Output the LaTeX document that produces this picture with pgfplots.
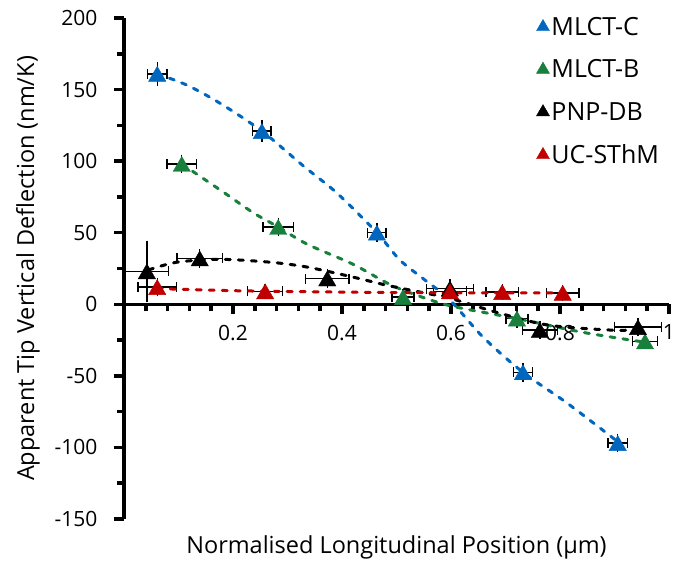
\documentclass[border=0pt]{standalone}
\usepackage{fontspec}
\setmainfont{Open Sans}
\usepackage{pgfplots}
\usepackage{pgfplotstable}
\pgfplotsset{compat=1.18}

\definecolor{mblue}{RGB}{0,102,190}
\definecolor{mgreen}{RGB}{24,128,60}
\definecolor{mred}{RGB}{192,0,0}

% x, y, x error, y error
\pgfplotstableread{
x y ex ey
0.061 161 0.018 5
0.253 121 0.017 4
0.464 50 0.017 3
0.732 -47.5 0.017 3
0.906 -97 0.018 3
}\mlctc
\pgfplotstableread{
x y ex ey
0.106 98 0.027 3
0.283 54 0.028 3
0.512 5 0.02 2
0.721 -10 0.02 3
0.956 -26 0.023 2
}\mlctb
\pgfplotstableread{
x y ex ey
0.042 23 0.04 18
0.139 32 0.042 3
0.373 18 0.04 3
0.598 11 0.043 3
0.763 -18 0.032 3
0.943 -16 0.043 3
}\pnpdb
\pgfplotstableread{
x y ex ey
0.061 12 0.035 3
0.259 9 0.032 2
0.598 9 0.03 2
0.694 8.5 0.03 2
0.805 8 0.03 2
}\ucsthm

\pgfplotsset{
  trend/.style={line width=3pt, line cap=round, dash pattern=on 5pt off 8pt, smooth, no markers, forget plot},
  pts/.style={only marks, mark=triangle*, mark size=10pt, mark options={yshift=-2.5pt}},
  ebar/.style={forget plot, only marks, mark=none,
    error bars/error bar style={line width=1.4pt, black, solid},
    error bars/error mark options={line width=1.4pt, black, mark size=5pt}},
  xerr/.style={ebar, error bars/x dir=both, error bars/x explicit, error bars/error mark=|},
  yerr/.style={ebar, error bars/y dir=both, error bars/y explicit, error bars/error mark=-},
}

\begin{document}
\begin{tikzpicture}
\begin{axis}[
  scale only axis, width=545pt, height=501pt,
  xmin=0, xmax=1, ymin=-150, ymax=200,
  axis x line=middle, axis y line=left,
  axis line style={line width=3.5pt, -},
  xtick={0.2,0.4,0.6,0.8,1}, xticklabels={0.2,0.4,0.6,0.8,1},
  ytick={-150,-100,...,200},
  minor xtick={0,0.04,...,1.01}, minor ytick={-150,-125,...,200},
  tick align=outside,
  major tick length=10pt, minor tick length=7pt,
  tick style={line width=3.5pt, black},
  major tick style={line width=3.5pt, black},
  minor tick style={line width=3.5pt, black},
  /pgf/number format/assume math mode=true,
  tick label style={font=\fontsize{21}{25}\selectfont},
  yticklabel style={xshift=-13pt},
  xticklabel style={yshift=-7pt},
  label style={font=\fontsize{23.5}{28}\selectfont},
  xlabel={Normalised Longitudinal Position (µm)},
  ylabel={Apparent Tip Vertical Deflection (nm/K)},
  xlabel style={at={(axis description cs:0.5,-0.056)}, anchor=center},
  ylabel style={at={(axis description cs:-0.176,0.5)}, anchor=center},
  legend style={at={(axis description cs:0.751,1.01)}, anchor=north west,
    draw=none, fill=none, row sep=19pt, font=\fontsize{25}{30}\selectfont},
  legend cell align=left,
  legend image post style={mark size=7.5pt, mark options={yshift=0pt}},
  clip=false,
]

% error bars (behind the markers)
\addplot[xerr] table[x=x, y=y, x error=ex] {\mlctc};
\addplot[yerr] table[x=x, y=y, y error=ey] {\mlctc};
\addplot[xerr] table[x=x, y=y, x error=ex] {\mlctb};
\addplot[yerr] table[x=x, y=y, y error=ey] {\mlctb};
\addplot[xerr] table[x=x, y=y, x error=ex] {\pnpdb};
\addplot[yerr] table[x=x, y=y, y error=ey] {\pnpdb};
\addplot[xerr] table[x=x, y=y, x error=ex] {\ucsthm};
\addplot[yerr] table[x=x, y=y, y error=ey] {\ucsthm};

% trendlines
\addplot[trend, mblue] coordinates {(0.061,161) (0.116,153) (0.176,140.5) (0.253,121) (0.328,97) (0.391,77.6) (0.464,50) (0.506,31) (0.552,17) (0.598,3) (0.659,-23) (0.732,-47.5) (0.813,-69) (0.906,-96)};
\addplot[trend, mgreen] coordinates {(0.106,98) (0.176,80) (0.237,64) (0.283,54) (0.336,42) (0.42,28) (0.482,15) (0.525,8) (0.598,-1) (0.721,-10) (0.842,-19.6) (0.956,-26.5)};
\addplot[trend, black] coordinates {(0.045,24) (0.097,29.4) (0.176,31.4) (0.268,29.4) (0.336,26) (0.42,19) (0.482,13.3) (0.55,8) (0.598,4.2) (0.69,-6.3) (0.781,-14.7) (0.904,-18.2) (0.943,-17)};
\addplot[trend, mred] coordinates {(0.061,11) (0.2,9.5) (0.4,8.5) (0.6,8) (0.805,8)};

% measured points
\addplot[pts, mblue] table[x=x, y=y] {\mlctc};
\addlegendentry{MLCT-C}
\addplot[pts, mgreen] table[x=x, y=y] {\mlctb};
\addlegendentry{MLCT-B}
\addplot[pts, black] table[x=x, y=y] {\pnpdb};
\addlegendentry{PNP-DB}
\addplot[pts, mred] table[x=x, y=y] {\ucsthm};
\addlegendentry{UC-SThM}
\end{axis}
\pgfresetboundingbox
\path ([xshift=-124pt,yshift=-42pt]current axis.south west) rectangle ([xshift=17pt,yshift=18pt]current axis.north east);
\end{tikzpicture}
\end{document}
